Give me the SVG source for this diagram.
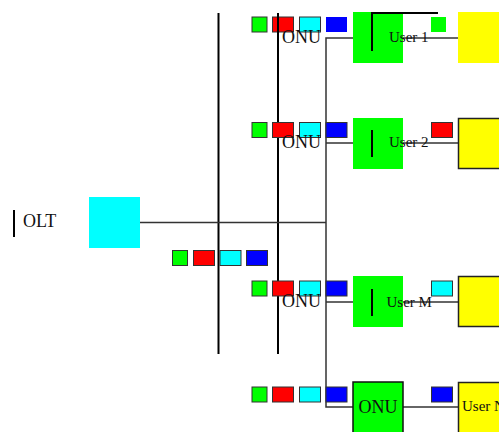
<svg xmlns="http://www.w3.org/2000/svg" width="499" height="432" viewBox="0 0 499 432">
<style>
.bus{stroke:#000;stroke-width:2;fill:none}
.wire{stroke:#333;stroke-width:1.5;fill:none}
.sq{stroke:#333;stroke-width:1}
.t18{font-family:"Liberation Serif",serif;font-size:18px;fill:#111}
.t15{font-family:"Liberation Serif",serif;font-size:15px;fill:#111}
</style>
<rect width="499" height="432" fill="#fff"/>
<g id="connectors">
<line class="bus" x1="218.5" y1="13" x2="218.5" y2="354"/>
<line class="bus" x1="278" y1="13" x2="278" y2="354"/>
<line class="wire" x1="140" y1="222.5" x2="326" y2="222.5"/>
<polyline class="wire" points="353,38 326,38 326,407 353,407"/>
<line class="wire" x1="326" y1="143" x2="353" y2="143"/>
<line class="wire" x1="326" y1="302" x2="353" y2="302"/>
<line class="wire" x1="403" y1="38" x2="458" y2="38"/>
<line class="wire" x1="403" y1="143" x2="458" y2="143"/>
<line class="wire" x1="403" y1="302" x2="458" y2="302"/>
<line class="wire" x1="403" y1="407" x2="458" y2="407"/>
</g>
<g id="olt">
<line class="bus" x1="14" y1="210" x2="14" y2="237"/>
<text class="t18" x="23" y="227">OLT</text>
<rect x="89" y="197" width="51" height="51" fill="#00ffff"/>
<rect class="sq" x="172.5" y="250.5" width="15" height="15" fill="#00ff00"/>
<rect class="sq" x="193.5" y="250.5" width="21" height="15" fill="#ff0000"/>
<rect class="sq" x="220" y="250.5" width="21" height="15" fill="#00ffff"/>
<rect class="sq" x="246.5" y="250.5" width="21" height="15" fill="#0000ff"/>
</g>
<g id="onu1">
<rect class="sq" x="252" y="17" width="15" height="15" fill="#00ff00"/>
<rect class="sq" x="272.5" y="17" width="21" height="15" fill="#ff0000"/>
<rect class="sq" x="299.5" y="17" width="21" height="15" fill="#00ffff"/>
<rect x="326" y="17" width="21" height="15" fill="#0000ff"/>
<line class="bus" x1="278" y1="13" x2="278" y2="40"/>
<text class="t18" x="282" y="43">ONU</text>
<rect x="353" y="12" width="50" height="51" fill="#00ff00"/>
<polyline class="bus" points="372,51 372,13 438,13"/>
<text class="t15" x="389" y="42">User  1</text>
</g>
<g id="user1">
<rect x="431" y="17" width="15" height="15" fill="#00ff00"/>
<rect x="458" y="12" width="45" height="51" fill="#ffff00"/>
</g>
<g id="onu2">
<rect class="sq" x="252" y="122.5" width="15" height="15" fill="#00ff00"/>
<rect class="sq" x="272.5" y="122.5" width="21" height="15" fill="#ff0000"/>
<rect class="sq" x="299.5" y="122.5" width="21" height="15" fill="#00ffff"/>
<rect class="sq" x="326" y="122.5" width="21" height="15" fill="#0000ff"/>
<text class="t18" x="282" y="148">ONU</text>
<rect x="353" y="118" width="50" height="51" fill="#00ff00"/>
<line class="bus" x1="372" y1="130" x2="372" y2="157"/>
<text class="t15" x="389" y="147">User  2</text>
</g>
<g id="user2">
<rect class="sq" x="431.5" y="122.5" width="21" height="15" fill="#ff0000"/>
<rect x="458.5" y="118.5" width="45" height="50" fill="#ffff00" stroke="#222" stroke-width="1.5"/>
</g>
<g id="onuM">
<rect class="sq" x="252" y="281" width="15" height="15" fill="#00ff00"/>
<rect class="sq" x="272.5" y="281" width="21" height="15" fill="#ff0000"/>
<rect class="sq" x="299.5" y="281" width="21" height="15" fill="#00ffff"/>
<rect class="sq" x="326" y="281" width="21" height="15" fill="#0000ff"/>
<text class="t18" x="282" y="307">ONU</text>
<rect x="353" y="276" width="50" height="51" fill="#00ff00"/>
<line class="bus" x1="372" y1="289" x2="372" y2="316"/>
<text class="t15" x="386.5" y="307">User M</text>
</g>
<g id="userM">
<rect class="sq" x="431.5" y="281" width="21" height="15" fill="#00ffff"/>
<rect x="458.5" y="276.5" width="45" height="50" fill="#ffff00" stroke="#222" stroke-width="1.5"/>
</g>
<g id="onuN">
<rect class="sq" x="252" y="387" width="15" height="15" fill="#00ff00"/>
<rect class="sq" x="272.5" y="387" width="21" height="15" fill="#ff0000"/>
<rect class="sq" x="299.5" y="387" width="21" height="15" fill="#00ffff"/>
<rect class="sq" x="326" y="387" width="21" height="15" fill="#0000ff"/>
<rect x="353" y="382" width="50" height="55" fill="#00ff00" stroke="#111" stroke-width="1.5"/>
<text class="t18" x="378" y="413" text-anchor="middle">ONU</text>
</g>
<g id="userN">
<rect class="sq" x="431.5" y="387" width="21" height="15" fill="#0000ff"/>
<rect x="458.5" y="382.5" width="45" height="55" fill="#ffff00" stroke="#222" stroke-width="1.5"/>
<text class="t15" x="462" y="411">User N</text>
</g>
</svg>
